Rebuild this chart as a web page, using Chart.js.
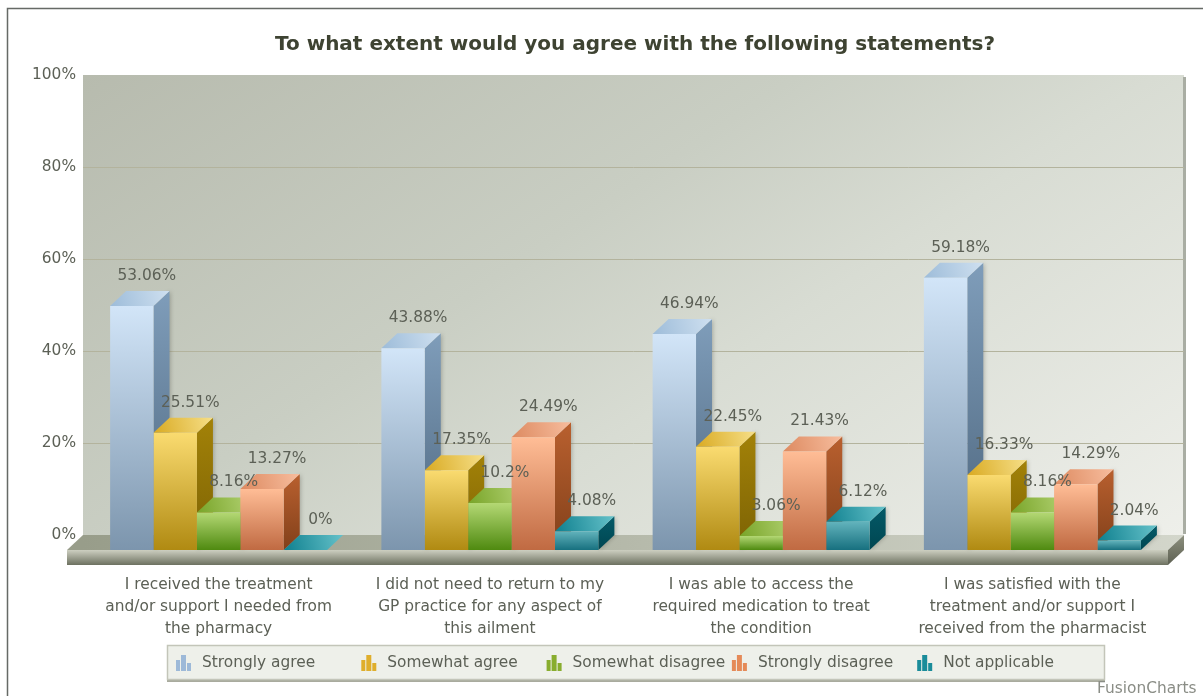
<!DOCTYPE html>
<html>
<head>
<meta charset="utf-8">
<title>Agreement with statements</title>
<script src="https://cdn.jsdelivr.net/npm/chart.js@4/dist/chart.umd.js"></script>
<style>
html,body{margin:0;padding:0;background:#fff;overflow:hidden}
canvas{display:block}
</style>
</head>
<body>
<canvas id="chart" width="1203" height="696"></canvas>
<script>
// Survey data, one value per statement for each response option
const categories = [
  ['I received the treatment', 'and/or support I needed from', 'the pharmacy'],
  ['I did not need to return to my', 'GP practice for any aspect of', 'this ailment'],
  ['I was able to access the', 'required medication to treat', 'the condition'],
  ['I was satisfied with the', 'treatment and/or support I', 'received from the pharmacist']
];
const stronglyAgree    = [53.06, 43.88, 46.94, 59.18];
const somewhatAgree    = [25.51, 17.35, 22.45, 16.33];
const somewhatDisagree = [8.16, 10.2, 3.06, 8.16];
const stronglyDisagree = [13.27, 24.49, 21.43, 14.29];
const notApplicable    = [0, 4.08, 6.12, 2.04];
const seriesNames = ['Strongly agree', 'Somewhat agree', 'Somewhat disagree', 'Strongly disagree', 'Not applicable'];
const yTicks = [0, 20, 40, 60, 80, 100];

// Face colours for each series: front gradient, top gradient, side gradient
const palettes = [
  { front: ['#d2e5f8', '#7c95ad'], top: ['#9dbcd9', '#cfe0f0'], side: ['#7f9dba', '#4d667e'], icon: '#9db9d8' },
  { front: ['#fadb70', '#b08a12'], top: ['#d9aa22', '#f6df88'], side: ['#a38208', '#7c6204'], icon: '#dfae2c' },
  { front: ['#b4d874', '#4f8a10'], top: ['#78a428', '#b6d578'], side: ['#6f9a1e', '#4a7a0c'], icon: '#88ad2e' },
  { front: ['#ffbd96', '#c06a42'], top: ['#dd8a60', '#f7bd9e'], side: ['#b9602f', '#82401a'], icon: '#e58a58' },
  { front: ['#62b3bc', '#17707f'], top: ['#0e7f8e', '#66c2ca'], side: ['#045a68', '#004651'], icon: '#1a8c9a' }
];

// Depth of the pseudo-3D extrusion, in pixels
const DEPTH_X = 16;
const DEPTH_Y = 15;
const PX_PER_UNIT = 4.6;
const FLOOR_UNITS = DEPTH_Y / PX_PER_UNIT;

const BODY_FONT = '"DejaVu Sans", Verdana, sans-serif';
const TEXT_SIZE = 15.4;
const TEXT_COLOR = '#5c6056';

function vGrad(ctx, y0, y1, stops) {
  const g = ctx.createLinearGradient(0, y0, 0, y1);
  g.addColorStop(0, stops[0]);
  g.addColorStop(1, stops[1]);
  return g;
}

// Back wall, gridlines, floor slab and frame, painted before the bars
const stagePlugin = {
  id: 'stage',
  // The heading is centred over the wall rather than the full canvas
  afterLayout(chart) {
    chart.titleBlock.left = 67;
  },
  beforeDatasetsDraw(chart) {
    const { ctx, chartArea, scales } = chart;
    const y = scales.y;
    const left = chartArea.left;
    const right = chartArea.right + DEPTH_X;
    const top = y.getPixelForValue(100);
    const back = y.getPixelForValue(0);
    const frontY = back + DEPTH_Y;
    ctx.save();

    // Wall, shaded diagonally from the upper left
    const wall = ctx.createLinearGradient(left, top, left + 551, top + 826);
    wall.addColorStop(0, '#b7bbae');
    wall.addColorStop(0.4, '#c9cec3');
    wall.addColorStop(0.6, '#d8dcd3');
    wall.addColorStop(1, '#eeefea');
    ctx.fillStyle = wall;
    ctx.fillRect(left, top, right - left, back - top);
    ctx.fillStyle = '#a9ada3';
    ctx.fillRect(right - 1, top + 2, 3, back - top - 3);

    // Gridlines follow the value axis
    ctx.strokeStyle = '#b3b39d';
    ctx.lineWidth = 1;
    yTicks.forEach(v => {
      if (v === 0 || v === 100) return;
      const py = Math.round(y.getPixelForValue(v)) + 0.5;
      ctx.beginPath();
      ctx.moveTo(left, py);
      ctx.lineTo(right, py);
      ctx.stroke();
    });

    // Floor slab: top, front edge and right end
    const floorTop = ctx.createLinearGradient(left, 0, right, 0);
    floorTop.addColorStop(0, '#989d8a');
    floorTop.addColorStop(1, '#d3d6cb');
    ctx.fillStyle = floorTop;
    ctx.beginPath();
    ctx.moveTo(left, back);
    ctx.lineTo(right, back);
    ctx.lineTo(right - DEPTH_X, frontY);
    ctx.lineTo(left - DEPTH_X, frontY);
    ctx.closePath();
    ctx.fill();
    ctx.fillStyle = vGrad(ctx, frontY, frontY + DEPTH_Y, ['#cdcfc1', '#6d7160']);
    ctx.fillRect(left - DEPTH_X, frontY, right - left, DEPTH_Y);
    ctx.fillStyle = vGrad(ctx, back, frontY + DEPTH_Y, ['#8d907f', '#5d6052']);
    ctx.beginPath();
    ctx.moveTo(right - DEPTH_X, frontY);
    ctx.lineTo(right, back);
    ctx.lineTo(right, frontY);
    ctx.lineTo(right - DEPTH_X, frontY + DEPTH_Y);
    ctx.closePath();
    ctx.fill();
    ctx.restore();
  },
  // Outer frame: only the top and left rules sit inside the canvas
  beforeDraw(chart) {
    const { ctx, width, height } = chart;
    ctx.save();
    ctx.strokeStyle = '#666a66';
    ctx.lineWidth = 1.5;
    ctx.beginPath();
    ctx.moveTo(7.5, height);
    ctx.lineTo(7.5, 8.5);
    ctx.lineTo(width, 8.5);
    ctx.stroke();
    ctx.restore();
  }
};

// Side and top faces of every column, left to right, beneath the front faces
const extrudePlugin = {
  id: 'extrude',
  beforeDatasetsDraw(chart) {
    const { ctx } = chart;
    ctx.save();
    chart.data.datasets.forEach((ds, index) => {
      const pal = palettes[index];
      chart.getDatasetMeta(index).data.forEach(bar => {
        const { x, y, base, width } = bar.getProps(['x', 'y', 'base', 'width'], true);
        const l = x - width / 2;
        const r = x + width / 2;
        // Side
        ctx.save();
        ctx.shadowColor = 'rgba(40,40,30,0.28)';
        ctx.shadowBlur = 4;
        ctx.shadowOffsetX = 1;
        ctx.fillStyle = vGrad(ctx, y - DEPTH_Y, base, pal.side);
        ctx.beginPath();
        ctx.moveTo(r, y);
        ctx.lineTo(r + DEPTH_X, y - DEPTH_Y);
        ctx.lineTo(r + DEPTH_X, base - DEPTH_Y);
        ctx.lineTo(r, base);
        ctx.closePath();
        ctx.fill();
        ctx.restore();
        // Top
        const g = ctx.createLinearGradient(l, y, r + DEPTH_X, y - DEPTH_Y);
        g.addColorStop(0, pal.top[0]);
        g.addColorStop(1, pal.top[1]);
        ctx.fillStyle = g;
        ctx.beginPath();
        ctx.moveTo(l, y);
        ctx.lineTo(l + DEPTH_X, y - DEPTH_Y);
        ctx.lineTo(r + DEPTH_X, y - DEPTH_Y);
        ctx.lineTo(r, y);
        ctx.closePath();
        ctx.fill();
      });
    });
    ctx.restore();
  }
};

// Value labels above each column, plus legend panel and credit line
const annotatePlugin = {
  id: 'annotate',
  afterDatasetsDraw(chart) {
    const { ctx } = chart;
    ctx.save();
    ctx.font = TEXT_SIZE + 'px ' + BODY_FONT;
    ctx.fillStyle = TEXT_COLOR;
    ctx.textAlign = 'center';
    ctx.textBaseline = 'middle';
    chart.data.datasets.forEach((ds, i) => {
      chart.getDatasetMeta(i).data.forEach((bar, j) => {
        const { x, y } = bar.getProps(['x', 'y'], true);
        ctx.fillText(ds.data[j] + '%', x + 15, y - 30);
      });
    });
    ctx.restore();
  },
  afterDraw(chart) {
    const { ctx } = chart;
    ctx.save();

    // Legend panel
    ctx.fillStyle = '#a9ab9e';
    ctx.fillRect(167, 646, 938, 36);
    ctx.fillStyle = '#eef0ea';
    ctx.strokeStyle = '#c3c5b9';
    ctx.lineWidth = 1.5;
    ctx.fillRect(167, 645, 937, 34);
    ctx.strokeRect(167.5, 645.5, 937, 34);

    ctx.font = TEXT_SIZE + 'px ' + BODY_FONT;
    ctx.textBaseline = 'middle';
    ctx.textAlign = 'left';
    chart.data.datasets.forEach((ds, i) => {
      const ix = 176 + i * 185.3;
      ctx.fillStyle = palettes[i].icon;
      ctx.fillRect(ix, 660, 4, 11);
      ctx.fillRect(ix + 5, 655, 5, 16);
      ctx.fillRect(ix + 11, 663, 4, 8);
      ctx.fillStyle = TEXT_COLOR;
      ctx.fillText(ds.label, ix + 26, 663);
    });

    // Credit line
    ctx.fillStyle = '#8a8d86';
    ctx.fillText('FusionCharts', 1097, 689);
    ctx.restore();
  }
};

const seriesValues = [stronglyAgree, somewhatAgree, somewhatDisagree, stronglyDisagree, notApplicable];

new Chart(document.getElementById('chart'), {
  type: 'bar',
  data: {
    labels: categories,
    datasets: seriesNames.map((name, i) => ({
      label: name,
      data: seriesValues[i],
      yAxisID: 'y2',
      categoryPercentage: 0.8,
      barPercentage: 1,
      borderWidth: 0,
      backgroundColor(c) {
        const scale = c.chart.scales.y2;
        if (!scale || !c.raw || !c.chart.chartArea) return palettes[i].front[0];
        const y0 = scale.getPixelForValue(c.raw);
        const y1 = scale.getPixelForValue(0);
        if (!Number.isFinite(y0) || !Number.isFinite(y1)) return palettes[i].front[0];
        return vGrad(c.chart.ctx, y0, y1, palettes[i].front);
      }
    }))
  },
  options: {
    responsive: false,
    animation: false,
    layout: { padding: { left: 27, right: 0, top: 0, bottom: 0 } },
    plugins: {
      legend: { display: false },
      tooltip: { enabled: false },
      title: {
        display: true,
        text: 'To what extent would you agree with the following statements?',
        color: '#3e4332',
        font: { family: BODY_FONT, size: 20, weight: 'bold', lineHeight: 1.2 },
        padding: { top: 33, bottom: 18 }
      }
    },
    scales: {
      x: {
        grid: { display: false, drawTicks: false },
        border: { display: false },
        ticks: {
          color: TEXT_COLOR,
          autoSkip: false,
          maxRotation: 0,
          padding: 24,
          font: { family: BODY_FONT, size: TEXT_SIZE, lineHeight: 1.43 }
        },
        afterFit(scale) { scale.height = 146; }
      },
      // Visible value axis runs along the back wall
      y: {
        min: -FLOOR_UNITS,
        max: 100,
        grid: { display: false, drawTicks: false },
        border: { display: false },
        afterBuildTicks(scale) { scale.ticks = yTicks.map(value => ({ value })); },
        ticks: {
          color: TEXT_COLOR,
          padding: 7,
          font: { family: BODY_FONT, size: TEXT_SIZE },
          callback: v => v + '%'
        },
        afterFit(scale) { scale.width = 56; }
      },
      // Hidden twin axis with its zero at the front edge of the floor
      y2: {
        position: 'right',
        min: 0,
        max: 100 + FLOOR_UNITS,
        grid: { display: false, drawTicks: false },
        border: { display: false },
        ticks: { display: false },
        afterFit(scale) { scale.width = 35; }
      }
    }
  },
  plugins: [stagePlugin, extrudePlugin, annotatePlugin]
});
</script>
</body>
</html>
